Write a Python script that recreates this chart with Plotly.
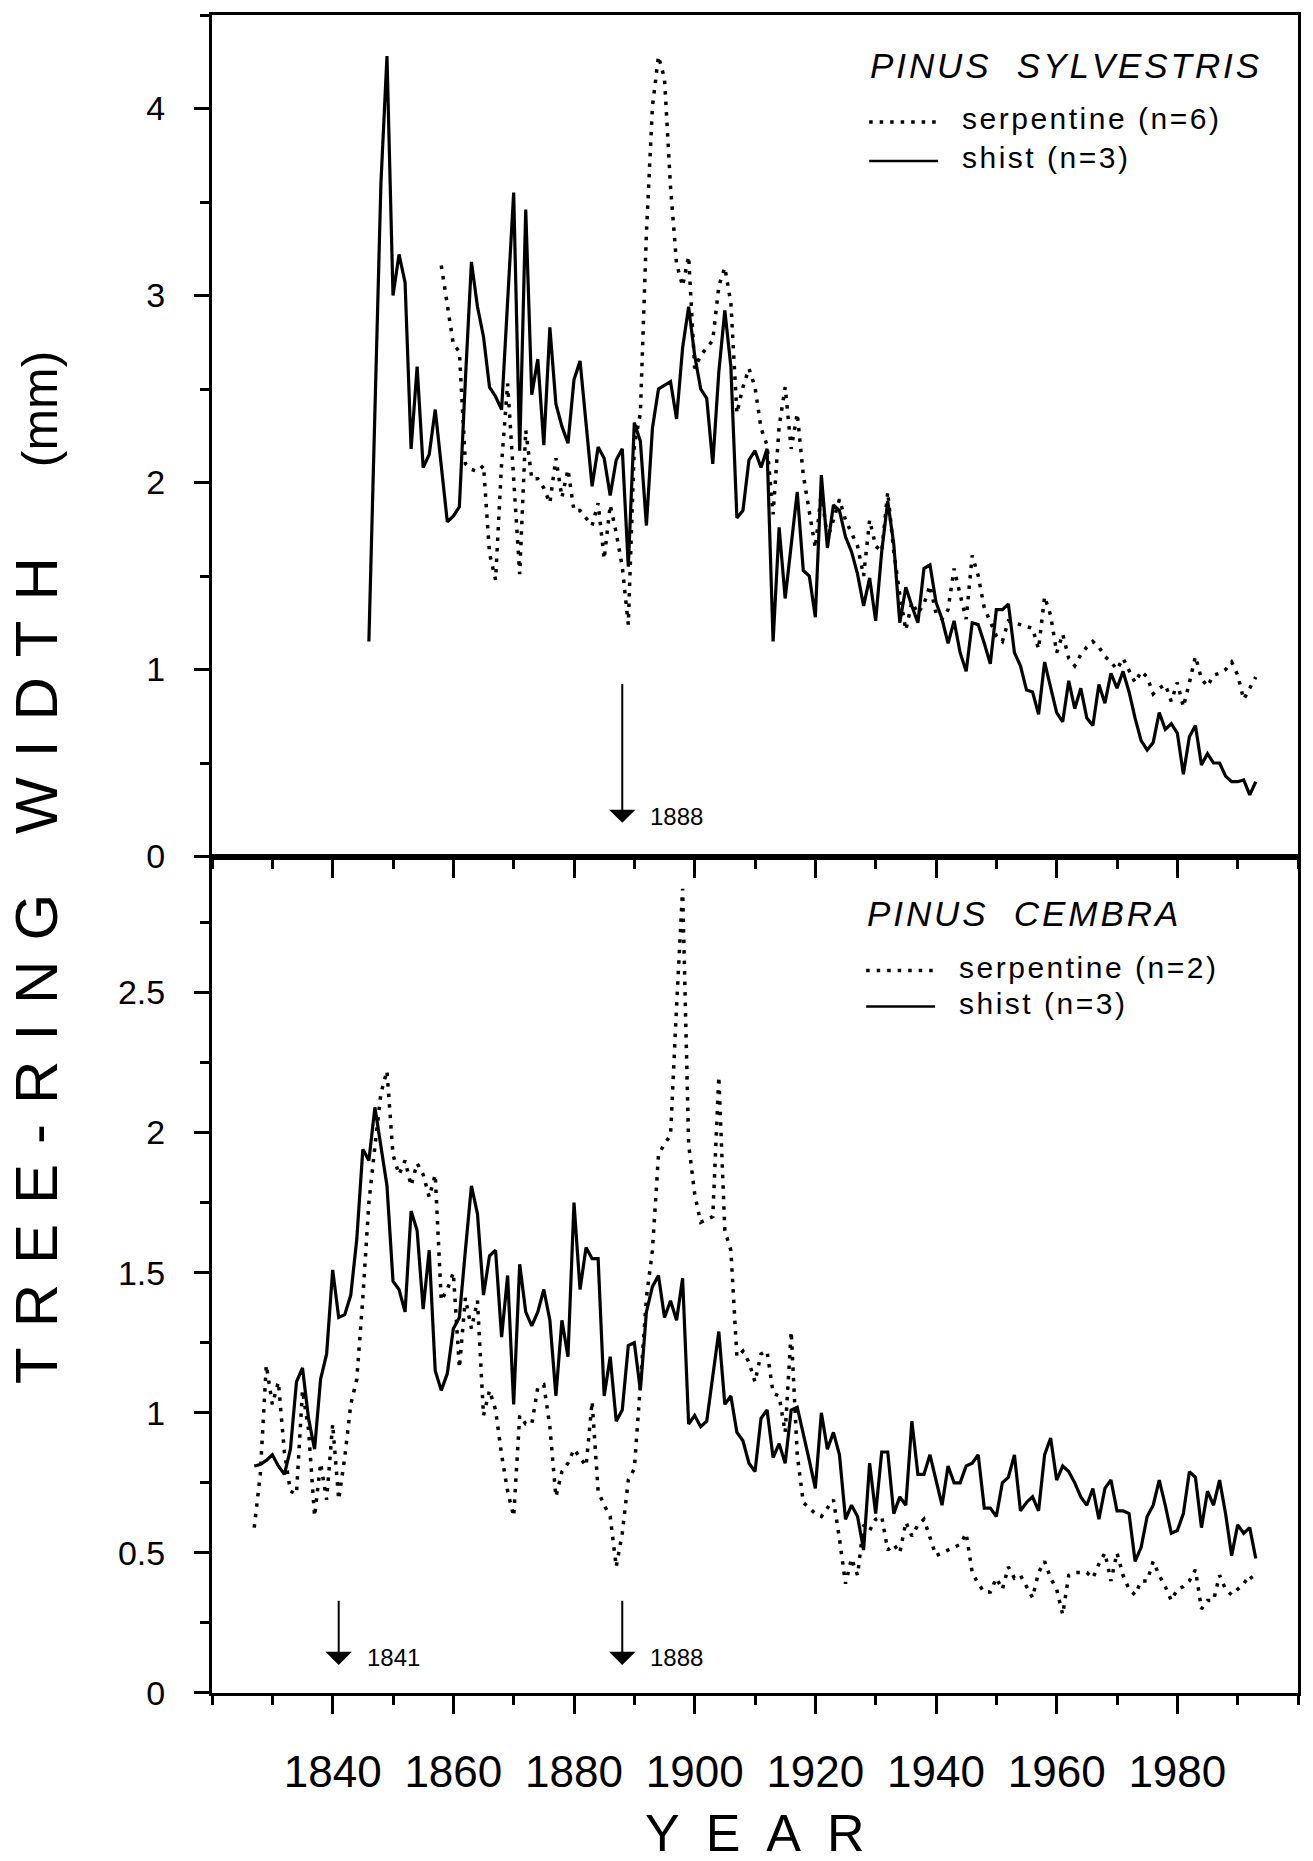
import plotly.graph_objects as go

# ---------------- data ----------------
# Pinus sylvestris, shist (n=3), annual values from 1846
sylv_shist_start = 1846
sylv_shist = [
    1.15, 2.40, 3.60, 4.28,
    3.00, 3.22, 3.07, 2.18, 2.62, 2.08, 2.15, 2.39, 2.10, 1.79,
    1.82, 1.87, 2.55, 3.18, 2.94, 2.78, 2.51, 2.46, 2.39, 2.95,
    3.55, 2.17, 3.46, 2.47, 2.66, 2.20, 2.83, 2.42, 2.30, 2.21,
    2.55, 2.65, 2.31, 1.98, 2.19, 2.13, 1.93, 2.12, 2.18, 1.55,
    2.32, 2.22, 1.77, 2.29, 2.50, 2.52, 2.54, 2.34, 2.72, 2.94,
    2.68, 2.50, 2.45, 2.10, 2.59, 2.92, 2.62, 1.81, 1.85, 2.12,
    2.17, 2.08, 2.18, 1.15, 1.76, 1.38, 1.65, 1.95, 1.53, 1.50,
    1.28, 2.04, 1.65, 1.88, 1.85, 1.71, 1.63, 1.51, 1.34, 1.49,
    1.26, 1.63, 1.90, 1.67, 1.25, 1.44, 1.34, 1.25, 1.54, 1.56,
    1.36, 1.27, 1.14, 1.26, 1.09, 0.99, 1.25, 1.24, 1.14, 1.03,
    1.32, 1.32, 1.35, 1.09, 1.02, 0.89, 0.88, 0.76, 1.04, 0.90,
    0.77, 0.72, 0.94, 0.79, 0.90, 0.74, 0.70, 0.92, 0.82, 0.98,
    0.90, 0.99, 0.88, 0.74, 0.62, 0.57, 0.61, 0.77, 0.68, 0.71,
    0.66, 0.44, 0.64, 0.70, 0.49, 0.55, 0.50, 0.50, 0.43, 0.40,
    0.40, 0.41, 0.33, 0.40,
]

# Pinus sylvestris, serpentine (n=6), annual values from 1858
sylv_serp_start = 1858
sylv_serp = [
    3.16, 2.95,
    2.74, 2.70, 2.10, 2.07, 2.06, 2.09, 1.62, 1.48, 2.10, 2.53,
    2.00, 1.51, 2.28, 2.02, 2.02, 1.97, 1.89, 2.13, 1.92, 2.07,
    1.85, 1.85, 1.81, 1.77, 1.89, 1.59, 1.88, 1.73, 1.55, 1.24,
    2.20, 2.37, 3.33, 4.01, 4.28, 4.16, 3.58, 3.17, 3.05, 3.21,
    2.61, 2.68, 2.72, 2.76, 3.05, 3.15, 2.96, 2.37, 2.51, 2.61,
    2.51, 2.29, 2.20, 1.83, 2.30, 2.51, 2.18, 2.37, 2.04, 1.83,
    1.65, 1.95, 1.70, 1.80, 1.91, 1.80, 1.73, 1.66, 1.50, 1.80,
    1.66, 1.63, 1.95, 1.63, 1.40, 1.21, 1.36, 1.30, 1.35, 1.45,
    1.30, 1.27, 1.32, 1.54, 1.40, 1.27, 1.61, 1.50, 1.33, 1.25,
    1.18, 1.15, 1.26, 1.25, 1.24, 1.23, 1.22, 1.11, 1.39, 1.29,
    1.09, 1.19, 1.06, 1.02, 1.08, 1.12, 1.15, 1.12, 1.07, 1.04,
    1.00, 1.06, 0.99, 0.93, 0.99, 0.96, 0.87, 0.90, 0.92, 0.83,
    0.93, 0.80, 0.93, 1.07, 0.95, 0.91, 0.97, 0.98, 1.00, 1.04,
    0.97, 0.84, 0.90, 0.96,
]

# Pinus cembra, shist (n=3), annual values from 1827
cembra_shist_start = 1827
cembra_shist = [
    0.81, 0.815, 0.83,
    0.85, 0.81, 0.78, 0.87, 1.11, 1.16, 0.98, 0.87, 1.12, 1.21,
    1.51, 1.34, 1.35, 1.42, 1.62, 1.94, 1.90, 2.09, 1.95, 1.81,
    1.47, 1.44, 1.36, 1.72, 1.65, 1.37, 1.58, 1.15, 1.08, 1.14,
    1.30, 1.34, 1.58, 1.81, 1.71, 1.42, 1.56, 1.58, 1.27, 1.49,
    1.03, 1.53, 1.36, 1.31, 1.36, 1.44, 1.33, 1.06, 1.33, 1.20,
    1.75, 1.44, 1.59, 1.55, 1.55, 1.06, 1.20, 0.97, 1.01, 1.24,
    1.25, 1.08, 1.36, 1.45, 1.49, 1.34, 1.40, 1.33, 1.48, 0.96,
    0.99, 0.95, 0.97, 1.13, 1.29, 1.03, 1.06, 0.93, 0.90, 0.82,
    0.79, 0.98, 1.01, 0.84, 0.89, 0.82, 1.01, 1.02, 0.93, 0.83,
    0.73, 1.00, 0.87, 0.93, 0.85, 0.62, 0.67, 0.63, 0.51, 0.82,
    0.64, 0.86, 0.86, 0.64, 0.70, 0.67, 0.97, 0.78, 0.78, 0.85,
    0.76, 0.67, 0.81, 0.75, 0.75, 0.81, 0.82, 0.85, 0.66, 0.66,
    0.63, 0.75, 0.77, 0.85, 0.65, 0.68, 0.70, 0.65, 0.85, 0.91,
    0.76, 0.81, 0.79, 0.75, 0.70, 0.67, 0.73, 0.62, 0.73, 0.76,
    0.65, 0.65, 0.64, 0.47, 0.52, 0.63, 0.67, 0.76, 0.67, 0.57,
    0.58, 0.64, 0.79, 0.77, 0.59, 0.72, 0.67, 0.76, 0.64, 0.49,
    0.60, 0.57, 0.59, 0.48,
]

# Pinus cembra, serpentine (n=2), annual values from 1827
cembra_serp_start = 1827
cembra_serp = [
    0.59, 0.78, 1.17,
    1.03, 1.11, 0.86, 0.72, 0.71, 1.08, 0.94, 0.63, 0.82, 0.69,
    0.96, 0.69, 0.84, 1.03, 1.12, 1.41, 1.75, 1.95, 2.14, 2.22,
    1.92, 1.85, 1.90, 1.81, 1.89, 1.85, 1.77, 1.85, 1.40, 1.44,
    1.50, 1.16, 1.41, 1.30, 1.40, 0.99, 1.08, 1.01, 0.85, 0.72,
    0.63, 0.99, 0.96, 0.96, 1.09, 1.10, 0.95, 0.70, 0.79, 0.82,
    0.87, 0.84, 0.81, 1.04, 0.72, 0.67, 0.63, 0.45, 0.57, 0.76,
    0.80, 1.10, 1.41, 1.58, 1.92, 1.96, 1.99, 2.45, 2.87, 1.96,
    1.78, 1.68, 1.69, 1.70, 2.20, 1.65, 1.58, 1.20, 1.22, 1.18,
    1.11, 1.21, 1.22, 1.07, 1.06, 0.93, 1.29, 0.85, 0.68, 0.66,
    0.64, 0.63, 0.66, 0.69, 0.55, 0.39, 0.48, 0.42, 0.60, 0.58,
    0.62, 0.63, 0.51, 0.53, 0.50, 0.61, 0.56, 0.60, 0.62, 0.55,
    0.49, 0.50, 0.51, 0.52, 0.53, 0.57, 0.43, 0.39, 0.36, 0.36,
    0.41, 0.37, 0.45, 0.41, 0.42, 0.38, 0.34, 0.43, 0.47, 0.41,
    0.37, 0.28, 0.42, 0.43, 0.43, 0.43, 0.41, 0.46, 0.50, 0.40,
    0.50, 0.42, 0.37, 0.35, 0.40, 0.40, 0.47, 0.42, 0.38, 0.33,
    0.37, 0.38, 0.40, 0.44, 0.30, 0.33, 0.33, 0.42, 0.37, 0.35,
    0.37, 0.39, 0.42, 0.39,
]

x_range = [1820, 2000]
x_tick_years = [1840, 1860, 1880, 1900, 1920, 1940, 1960, 1980]
sylv_y_range = [0, 4.5]
sylv_yticks = [0, 1, 2, 3, 4]
cembra_y_range = [0, 2.985]
cembra_yticks = [0, 0.5, 1, 1.5, 2, 2.5]
cembra_yticklabels = ["0", "0.5", "1", "1.5", "2", "2.5"]

# marked years (arrows) : (year, arrow top, arrow tip)
sylv_marks = [(1888, 0.93, 0.18)]
cembra_marks = [(1841, 0.335, 0.10), (1888, 0.335, 0.10)]

sylv_title = "PINUS  SYLVESTRIS"
cembra_title = "PINUS  CEMBRA"
sylv_labels = ["serpentine (n=6)", "shist (n=3)"]
cembra_labels = ["serpentine (n=2)", "shist (n=3)"]

# ---------------- styling ----------------
FONT = "Liberation Sans, Arial, Helvetica, sans-serif"
DOT = "3.5px,7px"
LW = 3.2


def years(start, vals):
    return list(range(start, start + len(vals)))


def track(s, sep="\u200a"):
    return sep.join(s)


fig = go.Figure()

# top panel (x2, y2)
fig.add_trace(go.Scatter(x=years(sylv_serp_start, sylv_serp), y=sylv_serp,
                         mode="lines", line=dict(color="black", width=3.5, dash=DOT),
                         xaxis="x2", yaxis="y2", showlegend=False))
fig.add_trace(go.Scatter(x=years(sylv_shist_start, sylv_shist), y=sylv_shist,
                         mode="lines", line=dict(color="black", width=LW),
                         xaxis="x2", yaxis="y2", showlegend=False))
# bottom panel (x, y)
fig.add_trace(go.Scatter(x=years(cembra_serp_start, cembra_serp), y=cembra_serp,
                         mode="lines", line=dict(color="black", width=3.5, dash=DOT),
                         xaxis="x", yaxis="y", showlegend=False))
fig.add_trace(go.Scatter(x=years(cembra_shist_start, cembra_shist), y=cembra_shist,
                         mode="lines", line=dict(color="black", width=LW),
                         xaxis="x", yaxis="y", showlegend=False))

split = 0.4985
axis_common = dict(showline=True, linecolor="black", linewidth=3, mirror=True,
                   showgrid=False, zeroline=False, ticks="outside",
                   tickcolor="black", tickwidth=2.5)

xaxis_common = dict(axis_common, range=x_range, tickmode="array", tickvals=x_tick_years,
                    ticklen=18,
                    minor=dict(ticks="outside", ticklen=9, tick0=1820, dtick=10,
                               tickcolor="black", tickwidth=2.5, showgrid=False))

fig.update_layout(
    width=1313, height=1861,
    margin=dict(l=212, r=12, t=14, b=168),
    paper_bgcolor="white", plot_bgcolor="white",
    font=dict(family=FONT, color="black"),
    xaxis=dict(xaxis_common, anchor="y", domain=[0, 1],
               tickfont=dict(size=44, family=FONT), ticklabelstandoff=20),
    yaxis=dict(axis_common, anchor="x", domain=[0, split], range=cembra_y_range,
               tickmode="array", tickvals=cembra_yticks, ticktext=cembra_yticklabels,
               ticklen=15, tickfont=dict(size=34, family=FONT), ticklabelstandoff=22,
               minor=dict(ticks="outside", ticklen=9, tick0=0, dtick=0.25,
                          tickcolor="black", tickwidth=2.5, showgrid=False)),
    xaxis2=dict(xaxis_common, anchor="y2", domain=[0, 1], showticklabels=False),
    yaxis2=dict(axis_common, anchor="x2", domain=[split, 1], range=sylv_y_range,
                tickmode="array", tickvals=sylv_yticks,
                ticklen=15, tickfont=dict(size=34, family=FONT), ticklabelstandoff=22,
                minor=dict(ticks="outside", ticklen=9, tick0=0, dtick=0.5,
                           tickcolor="black", tickwidth=2.5, showgrid=False)),
)

annotations = []
shapes = []

# arrows with year labels
for (yr, top, tip), xr, yr_ref in [(m, "x2", "y2") for m in sylv_marks] + \
                                   [(m, "x", "y") for m in cembra_marks]:
    annotations.append(dict(x=yr, y=tip, ax=yr, ay=top, xref=xr, yref=yr_ref,
                            axref=xr, ayref=yr_ref, text="", showarrow=True,
                            arrowhead=1, arrowsize=2.2, arrowwidth=2,
                            arrowcolor="black", standoff=0))
    annotations.append(dict(x=yr + 4.3, y=tip + 0.025 * (1 if xr == "x" else 1.4),
                            xref=xr, yref=yr_ref, text=str(yr), showarrow=False,
                            xanchor="left", yanchor="middle",
                            font=dict(size=24, family=FONT, color="black")))


def px_x(X):
    return (X - 212) / 1089.0


def px_y(Y):
    return (1693 - Y) / 1679.0


# in-plot legends
legend_specs = [
    (sylv_title, sylv_labels, 870, 65, 118, 157),
    (cembra_title, cembra_labels, 867, 913, 967, 1003),
]
for title, labels, left, ty, y1, y2 in legend_specs:
    annotations.append(dict(x=px_x(left), y=px_y(ty), xref="paper", yref="paper",
                            text=track(title), showarrow=False, xanchor="left",
                            yanchor="middle",
                            font=dict(size=35, family=FONT, style="italic", color="black")))
    for lab, yy, dash in [(labels[0], y1, DOT), (labels[1], y2, "solid")]:
        annotations.append(dict(x=px_x(left + 92), y=px_y(yy), xref="paper", yref="paper",
                                text=track(lab), showarrow=False, xanchor="left",
                                yanchor="middle",
                                font=dict(size=30, family=FONT, color="black")))
        shapes.append(dict(type="line", xref="paper", yref="paper",
                           x0=px_x(left + 1), x1=px_x(left + 70), y0=px_y(yy + 3), y1=px_y(yy + 3),
                           line=dict(color="black", width=3.5 if dash != "solid" else 2.5,
                                     dash=dash)))

# axis titles
ytitle = ("\u2003".join("\u2004".join(w) for w in ["TREE-RING", "WIDTH"])
          + "\u2003\u2002" + '<span style="font-size:50px">(mm)</span>')
annotations.append(dict(x=px_x(36), y=px_y(867), xref="paper", yref="paper",
                        text=ytitle, textangle=-90, showarrow=False,
                        xanchor="center", yanchor="middle",
                        font=dict(size=60, family=FONT, color="black")))
annotations.append(dict(x=0.5, y=px_y(1833), xref="paper", yref="paper",
                        text="\u2002".join("YEAR"), showarrow=False,
                        xanchor="center", yanchor="middle",
                        font=dict(size=52, family=FONT, color="black")))

fig.update_layout(annotations=annotations, shapes=shapes)

fig.write_html("out.html")
